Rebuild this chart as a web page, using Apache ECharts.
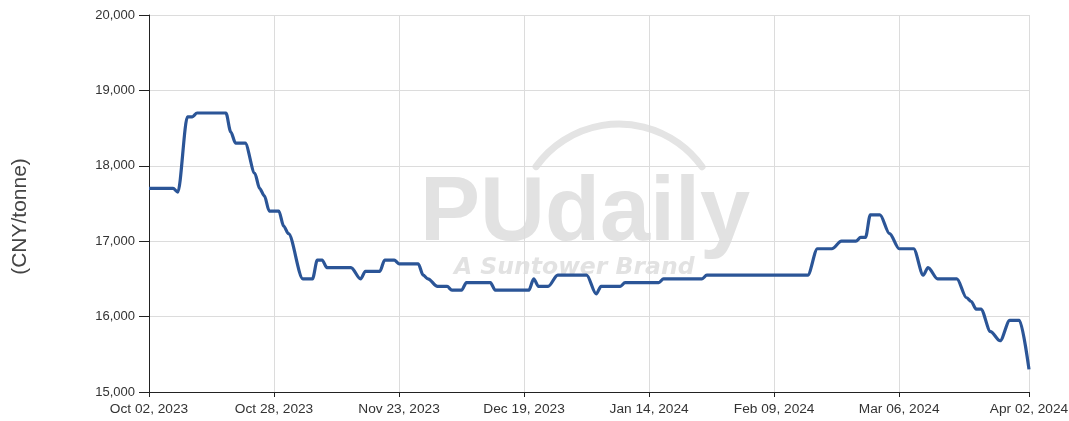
<!DOCTYPE html>
<html>
<head>
<meta charset="utf-8">
<title>Price chart</title>
<script src="https://cdn.jsdelivr.net/npm/echarts@6/dist/echarts.min.js"></script>
<style>
  html, body { margin: 0; padding: 0; background: #fff; }
  #myChart { width: 1069px; height: 421px; }
</style>
</head>
<body>
<div id="myChart"></div>
<script>
// price points (CNY/tonne)
const dates = [
  '2023-10-02', '2023-10-07', '2023-10-08', '2023-10-10', '2023-10-11', '2023-10-12',
  '2023-10-18', '2023-10-19', '2023-10-20', '2023-10-22', '2023-10-24', '2023-10-25',
  '2023-10-26', '2023-10-27', '2023-10-29', '2023-10-30', '2023-10-31', '2023-11-03',
  '2023-11-05', '2023-11-06', '2023-11-07', '2023-11-08', '2023-11-13', '2023-11-15',
  '2023-11-16', '2023-11-19', '2023-11-20', '2023-11-22', '2023-11-23', '2023-11-27',
  '2023-11-28', '2023-11-29', '2023-12-01', '2023-12-03', '2023-12-04', '2023-12-06',
  '2023-12-07', '2023-12-12', '2023-12-13', '2023-12-20', '2023-12-21', '2023-12-22',
  '2023-12-24', '2023-12-26', '2024-01-01', '2024-01-03', '2024-01-04', '2024-01-08',
  '2024-01-09', '2024-01-16', '2024-01-17', '2024-01-25', '2024-01-26', '2024-02-16',
  '2024-02-18', '2024-02-21', '2024-02-23', '2024-02-26', '2024-02-27', '2024-02-28',
  '2024-02-29', '2024-03-02', '2024-03-04', '2024-03-06', '2024-03-09', '2024-03-11',
  '2024-03-12', '2024-03-14', '2024-03-18', '2024-03-20', '2024-03-21', '2024-03-22',
  '2024-03-23', '2024-03-25', '2024-03-27', '2024-03-29', '2024-03-31', '2024-04-02'
];
const prices = [
  17700, 17700, 17650, 18650, 18650, 18700,
  18700, 18450, 18300, 18300, 17900, 17700,
  17600, 17400, 17400, 17200, 17100, 16500,
  16500, 16750, 16750, 16650, 16650, 16500,
  16600, 16600, 16750, 16750, 16700, 16700,
  16550, 16500, 16400, 16400, 16350, 16350,
  16450, 16450, 16350, 16350, 16500, 16400,
  16400, 16550, 16550, 16300, 16400, 16400,
  16450, 16450, 16500, 16500, 16550, 16550,
  16900, 16900, 17000, 17000, 17050, 17050,
  17350, 17350, 17100, 16900, 16900, 16550,
  16650, 16500, 16500, 16250, 16200, 16100,
  16100, 15800, 15680, 15950, 15950, 15300
];
const tickDates = ['2023-10-02', '2023-10-28', '2023-11-23', '2023-12-19', '2024-01-14', '2024-02-09', '2024-03-06', '2024-04-02'];
const tickLabels = ['Oct 02, 2023', 'Oct 28, 2023', 'Nov 23, 2023', 'Dec 19, 2023', 'Jan 14, 2024', 'Feb 09, 2024', 'Mar 06, 2024', 'Apr 02, 2024'];

// x runs in days from the first date
const t0 = echarts.time.parse(dates[0]).getTime();
const dayOf = d => Math.round((echarts.time.parse(d).getTime() - t0) / 86400000);
const tickDays = tickDates.map(dayOf);

const myCharts = echarts.init(document.getElementById('myChart'), null, { renderer: 'canvas' });

myCharts.setOption({
  animation: false,
  textStyle: { fontFamily: '"Liberation Sans", Arial, sans-serif' },
  grid: { left: 149, right: 40, top: 15, bottom: 29, outerBoundsMode: 'none', containLabel: false },
  graphic: [
    // watermark
    {
      type: 'arc', z: -1, silent: true,
      shape: { cx: 619, cy: 226, r: 102, startAngle: -2.52, endAngle: -0.62, clockwise: true },
      style: { stroke: '#e4e4e4', lineWidth: 7, fill: null, lineCap: 'round' }
    },
    {
      type: 'text', z: -1, silent: true, left: 420, top: 170,
      style: { text: 'PUdaily', font: 'bold 90px "Liberation Sans", Arial, sans-serif', fill: '#e2e2e2' }
    },
    {
      type: 'text', z: -1, silent: true, left: 454, top: 256,
      style: { text: 'A Suntower Brand', font: 'italic bold 23.5px "DejaVu Sans", sans-serif', fill: '#e2e2e2' }
    }
  ],
  xAxis: {
    type: 'value',
    min: 0,
    max: tickDays[tickDays.length - 1],
    axisLine: { lineStyle: { color: '#222', width: 1 } },
    axisTick: { show: true, length: 5, lineStyle: { color: '#222' }, customValues: tickDays },
    axisLabel: {
      customValues: tickDays,
      color: '#333',
      fontSize: 13.7,
      margin: 10,
      hideOverlap: false,
      formatter: function (val) {
        const i = tickDays.indexOf(Math.round(val));
        return i >= 0 ? tickLabels[i] : '';
      }
    },
    splitLine: { show: true, lineStyle: { color: '#dcdcdc' } }
  },
  yAxis: {
    type: 'value',
    min: 15000,
    max: 20000,
    interval: 1000,
    name: '(CNY/tonne)',
    nameLocation: 'middle',
    nameRotate: 90,
    nameGap: 118,
    nameTextStyle: { fontSize: 21, color: '#444', padding: [0, 26, 0, 0] },
    axisLine: { show: true, lineStyle: { color: '#222', width: 1 } },
    axisTick: { show: true, length: 10, lineStyle: { color: '#222' } },
    axisLabel: {
      color: '#333',
      fontSize: 13,
      margin: 14,
      formatter: v => v.toLocaleString('en-US')
    },
    splitLine: { lineStyle: { color: '#dcdcdc' } }
  },
  series: [
    {
      name: 'Price',
      type: 'line',
      data: dates.map((d, i) => [dayOf(d), prices[i]]),
      showSymbol: false,
      smooth: 0.3,
      smoothMonotone: 'x',
      lineStyle: { color: '#2b5597', width: 3.2 }
    }
  ]
});
</script>
</body>
</html>
